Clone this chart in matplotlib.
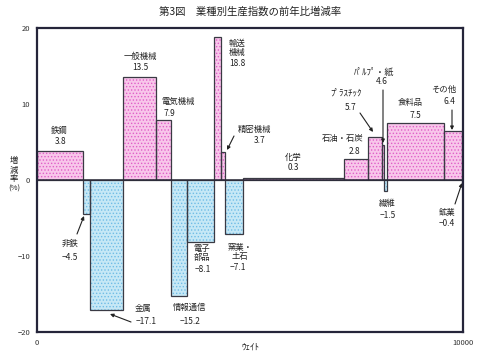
import matplotlib
matplotlib.use("Agg")
import matplotlib.pyplot as plt
import numpy as np

plt.rcParams['font.family'] = ['Noto Sans CJK JP', 'DejaVu Sans']
plt.rcParams['hatch.linewidth'] = 0.6

# ---- data ----
industries = ['鉄鋼', '非鉄', '金属', '一般機械', '電気機械', '情報通信', '電子部品',
              '輸送機械', '精密機械', '窯業・土石', '化学', '石油・石炭', 'プラスチック',
              'パルプ・紙', '繊維', '食料品', 'その他', '鉱業']
weights = [1080, 164, 775, 775, 345, 383, 622, 183, 94, 408, 2385, 563, 322,
           47, 77, 1338, 415, 23]
changes = [3.8, -4.5, -17.1, 13.5, 7.9, -15.2, -8.1, 18.8, 3.7, -7.1, 0.3, 2.8, 5.7,
           4.6, -1.5, 7.5, 6.4, -0.4]
display_names = ['鉄鋼', '非鉄', '金属', '一般機械', '電気機械', '情報通信', '電子\n部品',
                 '輸送\n機械', '精密機械', '窯業・\n土石', '化学', '石油・石炭', 'ﾌﾟﾗｽﾁｯｸ',
                 'ﾊﾟﾙﾌﾟ・紙', '繊維', '食料品', 'その他', '鉱業']
yticks = [-20, -10, 0, 10, 20]
ytick_labels = ['−20', '−10', '0', '10', '20']
xticks = [0, 10000]
xtick_labels = ['0', '10000']

# label positions (figure pixels from top-left): name pos, value pos, arrow (start, end) or None
label_layout = {
    '鉄鋼': ((59, 130), (61, 142), None),
    '非鉄': ((70, 243), (70, 257), ((77, 234), (84, 216))),
    '金属': ((143, 308), (146, 321), ((131, 322), (110, 314))),
    '一般機械': ((140, 56), (140, 68), None),
    '電気機械': ((178, 101), (169, 113), None),
    '情報通信': ((190, 307), (190, 321), None),
    '電子部品': ((202, 253), (203, 270), None),
    '輸送機械': ((237, 48), (237, 63), None),
    '精密機械': ((254, 129), (260, 141), ((234, 136), (227, 150))),
    '窯業・土石': ((240, 252), (238, 268), None),
    '化学': ((293, 157), (293, 167), None),
    '石油・石炭': ((343, 139), (355, 151), None),
    'プラスチック': ((346, 93), (351, 107), ((360, 113), (373, 132))),
    'パルプ・紙': ((374, 72), (382, 82), ((383, 90), (383, 143))),
    '繊維': ((387, 203), (388, 215), None),
    '食料品': ((410, 103), (415, 115), None),
    'その他': ((444, 89), (449, 102), ((452, 110), (452, 130))),
    '鉱業': ((447, 213), (447, 223), ((455, 204), (462, 183))),
}

W, H = 480, 357
fig = plt.figure(figsize=(W / 100, H / 100), dpi=100)
ax = fig.add_axes([37 / W, 1 - 332 / H, (463 - 37) / W, (332 - 28) / H])

lefts = np.concatenate([[0], np.cumsum(weights)[:-1]])
pos_face, pos_hatch = '#f8c6ea', '#e060c8'
neg_face, neg_hatch = '#c6e8f6', '#70bce6'
for i, (l, w, v) in enumerate(zip(lefts, weights, changes)):
    if industries[i] == '鉱業':
        fc, hc = '#9a9aa8', '#606070'
    elif v >= 0:
        fc, hc = pos_face, pos_hatch
    else:
        fc, hc = neg_face, neg_hatch
    ax.bar(l, v, width=w, align='edge', color=fc, edgecolor=hc, hatch='.....',
           linewidth=0, zorder=2)
    ax.bar(l, v, width=w, align='edge', fill=False, edgecolor='#3a3a44',
           linewidth=0.9, zorder=3)

ax.axhline(0, color='#2a2a38', linewidth=1.1, zorder=4)
ax.set_xlim(0, 10000)
ax.set_ylim(-20, 20)
ax.set_yticks(yticks)
ax.set_yticklabels(ytick_labels, fontsize=5.5)
ax.set_xticks(xticks)
ax.set_xticklabels(xtick_labels, fontsize=5.5)
ax.tick_params(length=0, pad=5, colors='#333333')
ax.tick_params(axis='x', pad=5)
for s in ax.spines.values():
    s.set_linewidth(1.6)
    s.set_color('#25253a')
    s.set_zorder(5)

def fp(p):
    return (p[0], H - p[1])

for ind, (npos, vpos, arr) in label_layout.items():
    i = industries.index(ind)
    name = display_names[i]
    v = changes[i]
    vt = f'{v:.1f}'.replace('-', '−')
    fs = 6.5 if name.startswith('ﾌﾟ') or name.startswith('ﾊﾟ') else 6
    fig.text(npos[0] / W, 1 - npos[1] / H, name, ha='center', va='center',
             fontsize=fs, linespacing=1.0, color='#222222')
    fig.text(vpos[0] / W, 1 - vpos[1] / H, vt, ha='center', va='center',
             fontsize=6, color='#222222')
    if arr is not None:
        ax.annotate('', xy=fp(arr[1]), xycoords='figure pixels',
                    xytext=fp(arr[0]), textcoords='figure pixels',
                    arrowprops=dict(arrowstyle='-|>', color='#222222', lw=0.8,
                                    mutation_scale=5, shrinkA=0, shrinkB=0),
                    annotation_clip=False)

fig.text(250 / W, 1 - 12 / H, '第3図　業種別生産指数の前年比増減率', ha='center',
         va='center', fontsize=7.5, color='#222222')
fig.text(250 / W, 1 - 347 / H, 'ｳｪｲﾄ', ha='center', va='center', fontsize=6.5,
         color='#222222')
fig.text(14 / W, 1 - 170 / H, '増\n減\n率', ha='center', va='center', fontsize=6,
         linespacing=1.0, color='#222222')
fig.text(14 / W, 1 - 189 / H, '(%)', ha='center', va='center', fontsize=5.5,
         color='#222222')

fig.savefig('out.png', dpi=100, facecolor='white')
